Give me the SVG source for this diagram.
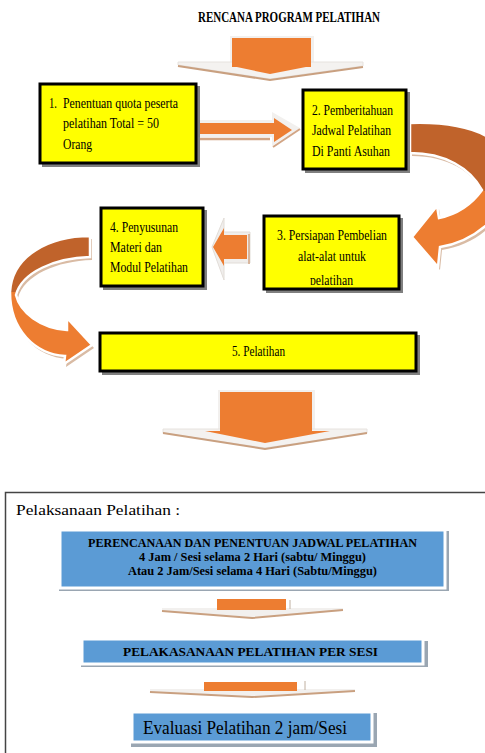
<svg xmlns="http://www.w3.org/2000/svg" width="485" height="753" viewBox="0 0 485 753">
<style>
.t{font-family:"Liberation Serif","Times New Roman",serif;fill:#000}
.b{font-weight:bold}
.ybox{fill:#FFFF00;stroke:#000;stroke-width:3}
.ysh{fill:#555;opacity:0.75}
.bbox{fill:#5B9BD5;stroke:#fff;stroke-width:3}
.bsh{fill:#9AA6B2}
.org{fill:#ED7D31}
.glow{fill:#F4F2F0;stroke:#E6E2DE;stroke-width:1}
.shline{fill:none;stroke:#C9A080;stroke-width:2}
.curv{stroke:#fff;stroke-width:2.5}
.cshadow{fill:#D9BBA4}
</style>
<defs>
<linearGradient id="gR" gradientUnits="userSpaceOnUse" x1="0" y1="123" x2="0" y2="267">
<stop offset="0" stop-color="#C0632B"/><stop offset="0.47" stop-color="#C0632B"/><stop offset="0.47" stop-color="#ED7D31"/><stop offset="1" stop-color="#ED7D31"/>
</linearGradient>
<linearGradient id="gL" gradientUnits="userSpaceOnUse" x1="0" y1="236" x2="0" y2="364">
<stop offset="0" stop-color="#C0632B"/><stop offset="0.44" stop-color="#C0632B"/><stop offset="0.44" stop-color="#ED7D31"/><stop offset="1" stop-color="#ED7D31"/>
</linearGradient>
<clipPath id="c3"><rect x="265" y="217" width="133" height="68"/></clipPath>
</defs>

<text class="t b" x="198" y="22" font-size="15" textLength="182" lengthAdjust="spacingAndGlyphs">RENCANA PROGRAM PELATIHAN</text>

<g id="connectors">
<g id="arrow-down-1">
<rect x="230" y="36" width="84" height="33" fill="#F2F0EE"/>
<polygon points="178,62 363,62 363,66 270,79 178,65" class="glow"/>
<polyline points="178,66 270,80 363,67" class="shline"/>
<rect x="232" y="38" width="79" height="29" class="org"/>
<polygon points="232,66 311,66 270,74" class="org"/>
</g>
<g id="arrow-1-2">
<polygon points="198,120 272,120 272,112 300,128 272,146 272,137 198,137" fill="#F2F0EE"/>
<line x1="200" y1="139" x2="270" y2="139" stroke="#D2A585" stroke-width="2.5"/>
<line x1="273" y1="147" x2="300" y2="129" stroke="#D2A585" stroke-width="2"/>
<polygon points="200,123 274,123 274,118 292,130 274,142 274,134 200,134" class="org"/>
</g>
<g id="arrow-2-3">
<path transform="translate(2,3)" class="cshadow" d="M410,123 C440,122 470,126 490,138 L500,160 L500,200 L490,222 C475,236 460,244 440,247 L438,267 L412,237 L437,206 L439,218 C458,214 472,204 482,190 C470,168 445,153 410,153 Z"/>
<path class="curv" fill="url(#gR)" d="M410,123 C440,122 470,126 490,138 L500,160 L500,200 L490,222 C475,236 460,244 440,247 L438,267 L412,237 L437,206 L439,218 C458,214 472,204 482,190 C470,168 445,153 410,153 Z"/>
</g>
<g id="arrow-3-4">
<polygon points="212,247 224,218 224,232 250,232 250,263 224,263 224,280" fill="#F0EEEC" stroke="#E2DDD8" stroke-width="1"/>
<line x1="249" y1="234" x2="249" y2="264" stroke="#D2A585" stroke-width="1.5"/>
<polygon points="213,247 224,228 224,235 247,235 247,259 224,259 224,266" class="org"/>
</g>
<g id="arrow-4-5">
<path transform="translate(2,3)" class="cshadow" d="M90,236 C50,236 12,255 10,292 C10,330 35,354 65,356 L64,364 L92,345 L67,318 L67,330 C40,328 20,312 16,295 C22,272 55,258 90,257 Z"/>
<path class="curv" fill="url(#gL)" d="M90,236 C50,236 12,255 10,292 C10,330 35,354 65,356 L64,364 L92,345 L67,318 L67,330 C40,328 20,312 16,295 C22,272 55,258 90,257 Z"/>
</g>
<g id="arrow-down-2">
<rect x="218" y="390" width="97" height="44" fill="#F2F0EE"/>
<polygon points="163,429 367,429 367,433 265,448 163,433" class="glow"/>
<polyline points="163,433 265,449 367,433" class="shline"/>
<rect x="220" y="392" width="92" height="40" class="org"/>
<polygon points="205,431 330,431 265,443" class="org"/>
</g>
<g id="arrow-small-1">
<polygon points="162,608 343,608 343,611 252,617 162,611" fill="#F2F0EE"/>
<polyline points="162,611 252,618 343,610" class="shline"/>
<rect x="217" y="599" width="69" height="11" class="org"/>
<line x1="290" y1="600" x2="290" y2="609" stroke="#C0B0A0" stroke-width="1"/>
</g>
<g id="arrow-small-2">
<polygon points="150,689 355,689 355,691 252,696 150,692" fill="#F2F0EE"/>
<polyline points="150,692 252,697 355,691" class="shline"/>
<rect x="204" y="682" width="93" height="9" class="org"/>
<line x1="305" y1="681" x2="305" y2="690" stroke="#C0B0A0" stroke-width="1"/>
</g>
</g>

<g id="node-1">
<rect x="42" y="86" width="158" height="81" class="ysh"/>
<rect x="40" y="84" width="156" height="79" class="ybox"/>
<text class="t" x="49" y="108" font-size="15" textLength="8" lengthAdjust="spacingAndGlyphs">1.</text>
<text class="t" x="63" y="108" font-size="15" textLength="115" lengthAdjust="spacingAndGlyphs">Penentuan quota peserta</text>
<text class="t" x="63" y="128" font-size="15" textLength="96" lengthAdjust="spacingAndGlyphs">pelatihan  Total = 50</text>
<text class="t" x="63" y="149" font-size="15" textLength="29" lengthAdjust="spacingAndGlyphs">Orang</text>
</g>

<g id="node-2">
<rect x="305" y="92" width="105" height="81" class="ysh"/>
<rect x="303" y="90" width="103" height="79" class="ybox"/>
<text class="t" x="312" y="115" font-size="14" textLength="81" lengthAdjust="spacingAndGlyphs">2. Pemberitahuan</text>
<text class="t" x="312" y="135" font-size="14" textLength="79" lengthAdjust="spacingAndGlyphs">Jadwal Pelatihan</text>
<text class="t" x="312" y="156" font-size="14" textLength="78" lengthAdjust="spacingAndGlyphs">Di Panti Asuhan</text>
</g>

<g id="node-3">
<rect x="266" y="218" width="137" height="75" class="ysh"/>
<rect x="264" y="216" width="135" height="73" class="ybox"/>
<text class="t" x="277" y="240" font-size="14" textLength="110" lengthAdjust="spacingAndGlyphs">3. Persiapan Pembelian</text>
<text class="t" x="298" y="261" font-size="14" textLength="68" lengthAdjust="spacingAndGlyphs">alat-alat untuk</text>
<text class="t" x="310" y="285" font-size="14" textLength="43" lengthAdjust="spacingAndGlyphs" clip-path="url(#c3)">pelatihan</text>
</g>

<g id="node-4">
<rect x="103" y="210" width="104" height="80" class="ysh"/>
<rect x="101" y="208" width="102" height="78" class="ybox"/>
<text class="t" x="110" y="232" font-size="14" textLength="68" lengthAdjust="spacingAndGlyphs">4. Penyusunan</text>
<text class="t" x="110" y="252" font-size="14" textLength="52" lengthAdjust="spacingAndGlyphs">Materi dan</text>
<text class="t" x="110" y="272" font-size="14" textLength="78" lengthAdjust="spacingAndGlyphs">Modul Pelatihan</text>
</g>

<g id="node-5">
<rect x="102" y="335" width="318" height="40" class="ysh"/>
<rect x="100" y="333" width="316" height="38" class="ybox"/>
<text class="t" x="232" y="356" font-size="14" textLength="53" lengthAdjust="spacingAndGlyphs">5. Pelatihan</text>
</g>

<g id="section-pelaksanaan">
<rect x="5.5" y="492.5" width="490" height="270" fill="none" stroke="#444" stroke-width="1.5"/>
<text class="t" x="16" y="515" font-size="15" textLength="164" lengthAdjust="spacingAndGlyphs">Pelaksanaan Pelatihan :</text>
</g>

<g id="node-perencanaan">
<rect x="59" y="531" width="390" height="60" class="bsh"/>
<rect x="60" y="530" width="385" height="58" class="bbox"/>
<text class="t b" x="88" y="547" font-size="11.5" textLength="329" lengthAdjust="spacingAndGlyphs">PERENCANAAN DAN PENENTUAN JADWAL PELATIHAN</text>
<text class="t b" x="139" y="561" font-size="11.5" textLength="227" lengthAdjust="spacingAndGlyphs">4 Jam / Sesi selama 2 Hari (sabtu/ Minggu)</text>
<text class="t b" x="128" y="575" font-size="11.5" textLength="249" lengthAdjust="spacingAndGlyphs">Atau 2 Jam/Sesi selama 4 Hari (Sabtu/Minggu)</text>
</g>

<g id="node-pelaksanaan">
<rect x="81" y="641" width="347" height="26" class="bsh"/>
<rect x="82" y="639" width="341" height="25" class="bbox"/>
<text class="t b" x="123" y="656" font-size="13" textLength="255" lengthAdjust="spacingAndGlyphs">PELAKASANAAN PELATIHAN PER SESI</text>
</g>

<g id="node-evaluasi">
<rect x="131" y="713" width="246" height="34" class="bsh"/>
<rect x="132" y="712" width="240" height="30" class="bbox"/>
<text class="t" x="143" y="734" font-size="19" textLength="204" lengthAdjust="spacingAndGlyphs">Evaluasi Pelatihan 2 jam/Sesi</text>
</g>
</svg>
